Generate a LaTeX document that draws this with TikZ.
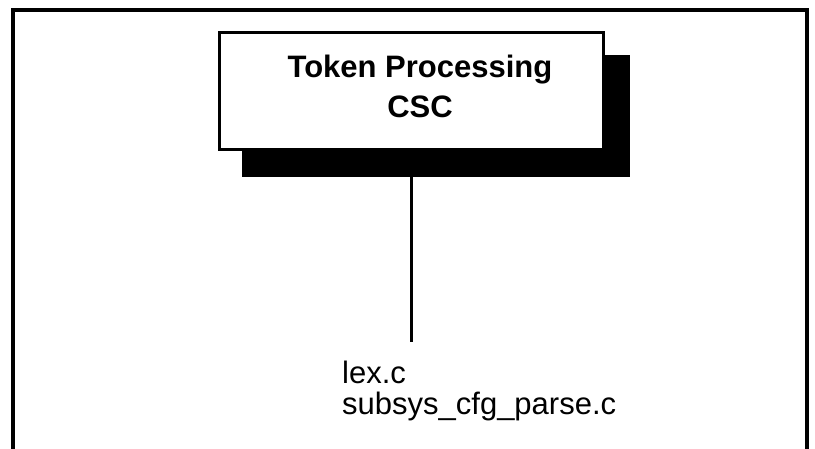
\documentclass[tikz,border=0pt]{standalone}
\usepackage{fontspec}
\setmainfont{Liberation Sans}
\begin{document}
\begin{tikzpicture}[x=1pt,y=-1pt,
  frameline/.style={line width=3.5pt},
  cscbox/.style={draw, fill=white, line width=3pt, minimum width=384pt, minimum height=117pt, inner sep=0pt},
  cscshadow/.style={fill=black, minimum width=388pt, minimum height=122pt, inner sep=0pt},
  title/.style={font=\fontsize{31}{40}\selectfont\bfseries, align=center, inner sep=0pt},
  files/.style={font=\fontsize{31}{31}\selectfont, align=left, inner sep=0pt, anchor=north west},
  link/.style={line width=3pt}]
  \useasboundingbox (0,0) rectangle (815,449);
  % outer frame, open at the bottom
  \draw[frameline] (13,449) -- (13,10) -- (807,10) -- (807,449);
  % component box with its drop shadow
  \node[cscshadow] (shadow) at (436,116) {};
  \node[cscbox] (box) at (411,91.5) {};
  \node[title] (name) at (420,86) {Token Processing\\CSC};
  % source files of the component
  \node[files] (files) at (342,361) {lex.c\\subsys\_cfg\_parse.c};
  \coordinate (linkend) at (411,342);
  \draw[link] (shadow.south -| box.south) -- (linkend);
\end{tikzpicture}
\end{document}
